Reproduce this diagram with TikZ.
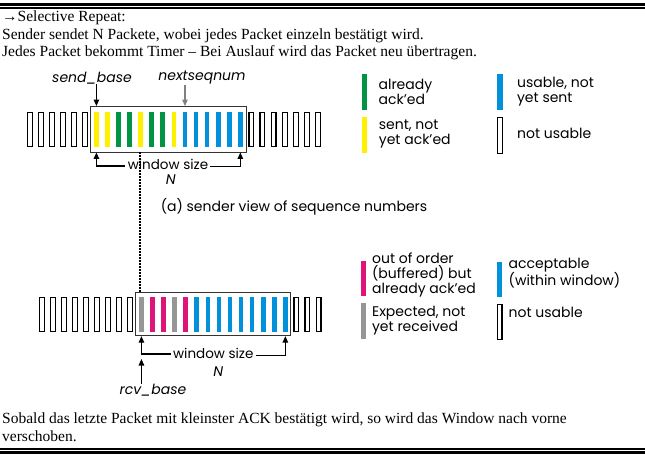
\documentclass[tikz,border=0pt]{standalone}
\usepackage{fontspec}
\setmainfont{Liberation Serif}
\newfontfamily\figfont{Poppins}
\usetikzlibrary{arrows.meta, positioning}
\definecolor{ackcolor}{RGB}{0,148,68}
\definecolor{sentcolor}{RGB}{255,240,0}
\definecolor{usecolor}{RGB}{0,145,218}
\definecolor{bufcolor}{RGB}{222,20,122}
\definecolor{expcolor}{RGB}{150,150,150}

\begin{document}
\begin{tikzpicture}[
  x=1pt, y=-1pt,
  head/.style={font=\fontsize{15.5}{17}\selectfont, anchor=base west, inner sep=0pt},
  label/.style={font=\figfont\fontsize{13.5}{14.8}\selectfont, inner sep=0pt, align=left},
  legend/.style={font=\figfont\fontsize{14}{14.8}\selectfont, inner sep=0pt, align=left},
  ptr/.style={font=\figfont\itshape\fontsize{14}{15}\selectfont, inner sep=0pt},
  free/.style={draw=black, line width=1.1pt, minimum width=4.9pt,
               minimum height=33.9pt, inner sep=0pt},
  pkt/.style={fill=#1, minimum width=4.7pt, minimum height=34.6pt, inner sep=0pt},
  win/.style={draw=black!80, line width=0.9pt, inner sep=0pt},
  arr/.style={-{Triangle[length=6.5pt,width=5.5pt]}, line width=1.2pt},
  link/.style={line width=1.3pt, dash pattern=on 1.6pt off 1.4pt},
  rule/.style={line width=#1}
]
\useasboundingbox (0,0) rectangle (645,457);

% text above and below the figure
\draw[rule=2.5pt] (0,4.5) -- (645,4.5);
\draw[rule=1.2pt] (0,8) -- (645,8);
\node[head] (title) at (2,21.5) {→Selective Repeat:};
\node[head] (line1) at (2,39.5) {Sender sendet N Packete, wobei jedes Packet einzeln bestätigt wird.};
\node[head] (line2) at (2,56.5) {Jedes Packet bekommt Timer – Bei Auslauf wird das Packet neu übertragen.};
\node[head] (foot1) at (2,423) {Sobald das letzte Packet mit kleinster ACK bestätigt wird, so wird das Window nach vorne};
\node[head] (foot2) at (2,441) {verschoben.};
\draw[rule=1.2pt] (0,449) -- (645,449);
\draw[rule=2.5pt] (0,452.5) -- (645,452.5);

% sender row
\foreach \i in {0,1,2,3,4,5,20,21,22,23,24,25,26}
  \node[free] (s\i) at ({30+11.07*\i},129.5) {};
\foreach \c [count=\i from 6] in {sentcolor,sentcolor,ackcolor,ackcolor,sentcolor,ackcolor,ackcolor,
    sentcolor,usecolor,usecolor,usecolor,usecolor,usecolor,usecolor}
  \node[pkt=\c] (s\i) at ({30+11.07*\i},129.5) {};
\node[win, minimum width=156pt, minimum height=45.5pt] (swin) at (168,129.25) {};

\node[ptr] (sendbase) at (92,78) {send\_base};
\node[ptr] (nextseq) at (202,78) {nextseqnum};
\draw[arr] (sendbase.south -| s6) -- (swin.north -| s6);
\draw[arr, black!50] (nextseq.south -| s14) -- (swin.north -| s14);

\node[label] (swsize) at (168,164.5) {window size};
\node[ptr] (sN) at (170.7,180) {N};
\draw[arr] ([xshift=-3pt,yshift=-1.5pt]swsize.west) -- ([yshift=-1.5pt]swsize.west -| s6) -- (swin.south -| s6);
\draw[arr] ([xshift=2pt,yshift=-2pt]swsize.east) -- ([yshift=-2pt]swsize.east -| s19) -- (swin.south -| s19);

\node[label, font=\figfont\fontsize{14}{15}\selectfont] (caption) at (294,207) {(a) sender view of sequence numbers};

% receiver row
\foreach \j in {0,1,2,3,4,5,6,7,8,23,24,25}
  \node[free] (r\j) at ({41.8+11.07*\j},314.5) {};
\foreach \c [count=\j from 9] in {expcolor,bufcolor,bufcolor,expcolor,bufcolor,usecolor,usecolor,
    usecolor,usecolor,usecolor,usecolor,usecolor,usecolor,usecolor}
  \node[pkt=\c] (r\j) at ({41.8+11.07*\j},314.5) {};
\node[win, minimum width=154.6pt, minimum height=43.2pt] (rwin) at (213,314.1) {};

\coordinate (linkx) at (140,0);
\draw[link] (swin.south -| linkx) -- (rwin.north -| linkx);

\node[label] (rwsize) at (213.3,353) {window size};
\node[ptr] (rN) at (218.3,371.7) {N};
\node[ptr] (rcvbase) at (153,390) {rcv\_base};
\draw[arr] ([xshift=-2pt,yshift=-1pt]rwsize.west) -- ([yshift=-1pt]rwsize.west -| r9) -- (rwin.south -| r9);
\draw[arr] ([xshift=2pt,yshift=-2.5pt]rwsize.east) -- ([yshift=-2.5pt]rwsize.east -| r22) -- (rwin.south -| r22);
\draw[arr] (rcvbase.north -| r9) -- ([yshift=-6pt]rwsize.west -| r9);

% legend, sender side
\node[pkt=ackcolor, minimum width=5pt, minimum height=35.7pt] (lack) at (364.2,92.2) {};
\node[legend, right=11.5pt of lack] (lacktxt) {already\\ack’ed};
\node[pkt=sentcolor, minimum width=5pt, minimum height=36pt] (lsent) at (364.5,135) {};
\node[legend, right=11.5pt of lsent, yshift=1pt] (lsenttxt) {sent, not\\yet ack’ed};
\node[pkt=usecolor, minimum width=5.4pt, minimum height=36pt] (luse) at (500,92) {};
\node[legend, right=14pt of luse] (lusetxt) {usable, not\\yet sent};
\node[free, minimum height=36pt] (lfree) at (500,135.5) {};
\node[legend, right=14pt of lfree, yshift=2.5pt] (lfreetxt) {not usable};

% legend, receiver side
\node[pkt=bufcolor, minimum width=5pt, minimum height=35.3pt] (lbuf) at (363.5,278.3) {};
\node[legend, right=5.7pt of lbuf, yshift=3.5pt] (lbuftxt) {out of order\\(buffered) but\\already ack’ed};
\node[pkt=expcolor, minimum width=5pt, minimum height=36pt] (lexp) at (363.5,320.7) {};
\node[legend, right=5.7pt of lexp] (lexptxt) {Expected, not\\yet received};
\node[pkt=usecolor, minimum width=5pt, minimum height=35pt] (lacc) at (499.8,279.2) {};
\node[legend, right=6pt of lacc, yshift=6pt] (lacctxt) {acceptable\\(within window)};
\node[free, minimum height=35pt] (lfree2) at (499.5,322) {};
\node[legend, right=6pt of lfree2, yshift=10pt] (lfree2txt) {not usable};
\end{tikzpicture}
\end{document}
